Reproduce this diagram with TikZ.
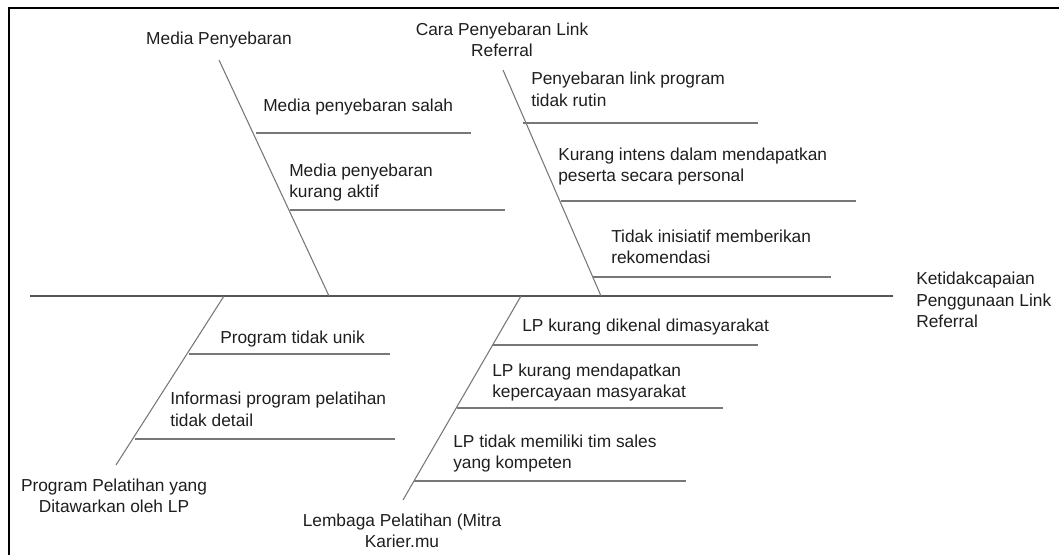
\documentclass[tikz,border=0pt]{standalone}
\usepackage{fontspec}
\setmainfont{Liberation Sans}
\usepackage{tikz}
\usetikzlibrary{positioning,calc}
\definecolor{bonegray}{HTML}{777777}
\definecolor{spinegray}{HTML}{555555}
\definecolor{textgray}{HTML}{1E1E1E}
\tikzset{
  cause/.style={inner sep=0pt, anchor=west, align=left, text=textgray,
    font=\fontsize{13}{16.2}\selectfont},
  category/.style={inner sep=0pt, align=center, text=textgray,
    font=\fontsize{13}{16.2}\selectfont},
  bone/.style={draw=bonegray, line width=0.8pt},
  subbone/.style={draw=bonegray, line width=0.8pt},
  spine/.style={draw=spinegray, line width=1.3pt},
  frame/.style={draw=black, line width=1.6pt}
}
\begin{document}
\begin{tikzpicture}[x=0.75pt,y=-0.75pt]
\useasboundingbox (0,0) rectangle (1059,555);
\draw[frame] (9,555) -- (9,8) -- (1059,8);
\coordinate (tail) at (30,296);
\coordinate (head) at (893,296);
\draw[spine] (tail) -- (head);
\node[cause] (effect) at (916,300) {Ketidakcapaian\\Penggunaan Link\\Referral};
\node[category] (media) at (219,40) {Media Penyebaran};
\node[category] (cara) at (502,40) {Cara Penyebaran Link\\Referral};
\node[category] (program) at (114,496) {Program Pelatihan yang\\Ditawarkan oleh LP};
\node[category] (lembaga) at (402,531) {Lembaga Pelatihan (Mitra\\Karier.mu};
\coordinate (mediaTop) at (219,60);
\coordinate (mediaEnd) at (329,296);
\coordinate (caraTop) at (503,70);
\coordinate (caraEnd) at (601,296);
\coordinate (programEnd) at (224,296);
\coordinate (programBot) at (116,465);
\coordinate (lembagaEnd) at (521,296);
\coordinate (lembagaBot) at (403,500);
\draw[bone] (mediaTop) -- (mediaEnd);
\draw[bone] (caraTop) -- (caraEnd);
\draw[bone] (programEnd) -- (programBot);
\draw[bone] (lembagaEnd) -- (lembagaBot);
\node[cause] (salah) at (263,107) {Media penyebaran salah};
\draw[subbone] (256,133) -- (471,133);
\node[cause] (aktif) at (289,182.5) {Media penyebaran\\kurang aktif};
\draw[subbone] (290,210) -- (505,210);
\node[cause] (rutin) at (531,89.5) {Penyebaran link program\\tidak rutin};
\draw[subbone] (523,123) -- (758,123);
\node[cause] (intens) at (558,166.5) {Kurang intens dalam mendapatkan\\peserta secara personal};
\draw[subbone] (561,201) -- (856,201);
\node[cause] (inisiatif) at (611,247) {Tidak inisiatif memberikan\\rekomendasi};
\draw[subbone] (593,277) -- (831,277);
\node[cause] (unik) at (220,339) {Program tidak unik};
\draw[subbone] (189,354) -- (390,354);
\node[cause] (detail) at (170,409.5) {Informasi program pelatihan\\tidak detail};
\draw[subbone] (135,439) -- (395,439);
\node[cause] (dikenal) at (522,327) {LP kurang dikenal dimasyarakat};
\draw[subbone] (493,345) -- (758,345);
\node[cause] (percaya) at (492,382.5) {LP kurang mendapatkan\\kepercayaan masyarakat};
\draw[subbone] (457,408) -- (723,408);
\node[cause] (sales) at (453,453.5) {LP tidak memiliki tim sales\\yang kompeten};
\draw[subbone] (414,481) -- (686,481);
\end{tikzpicture}
\end{document}
